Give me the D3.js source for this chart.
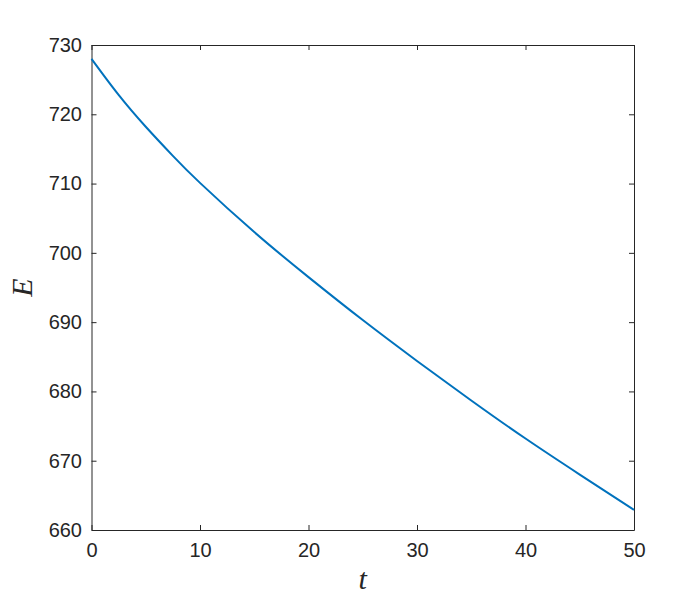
<!DOCTYPE html>
<html>
<head>
<meta charset="utf-8">
<script src="https://cdn.jsdelivr.net/npm/d3@7"></script>
<style>
  body { margin: 0; background: #fff; }
  .tick text { font-family: "Liberation Sans", Arial, sans-serif; font-size: 20px; fill: #262626; }
</style>
</head>
<body>
<div id="chart"></div>
<script>
// values
let t_vals = [0, 2.5, 5, 7.5, 10, 15, 20, 25, 30, 35, 40, 45, 50];
let e_vals = [728.0, 722.8, 718.2, 714.0, 710.1, 703.0, 696.5, 690.3, 684.4, 678.7, 673.2, 668.0, 662.9];
let x_ticks = [0, 10, 20, 30, 40, 50];
let y_ticks = [660, 670, 680, 690, 700, 710, 720, 730];

let width = 700, height = 600;
let margin = {left: 91.5, right: 66, top: 45, bottom: 70};

let svg = d3.select("#chart").append("svg")
    .attr("width", width)
    .attr("height", height);

let x = d3.scaleLinear().domain([0, 50]).range([margin.left, width - margin.right]);
let y = d3.scaleLinear().domain([660, 730]).range([height - margin.bottom, margin.top]);

let axis_color = "#262626";

// ticks pointing inward on all four sides
let bottom = svg.append("g")
    .attr("transform", "translate(0," + y.range()[0] + ")")
    .call(d3.axisBottom(x).tickValues(x_ticks).tickSizeInner(-5).tickSizeOuter(0).tickPadding(13));
let top_ax = svg.append("g")
    .attr("transform", "translate(0," + y.range()[1] + ")")
    .call(d3.axisTop(x).tickValues(x_ticks).tickSizeInner(-5).tickSizeOuter(0).tickFormat(""));
let left = svg.append("g")
    .attr("transform", "translate(" + x.range()[0] + ",0)")
    .call(d3.axisLeft(y).tickValues(y_ticks).tickSizeInner(-5).tickSizeOuter(0).tickPadding(9.5));
let right = svg.append("g")
    .attr("transform", "translate(" + x.range()[1] + ",0)")
    .call(d3.axisRight(y).tickValues(y_ticks).tickSizeInner(-5).tickSizeOuter(0).tickFormat(""));

[bottom, top_ax, left, right].forEach(g => {
    g.selectAll("path, line").attr("stroke", axis_color).attr("stroke-width", 1);
});
bottom.selectAll("text").attr("dy", "0.71em");

// the curve
let line = d3.line()
    .x((d, i) => x(t_vals[i]))
    .y(d => y(d))
    .curve(d3.curveNatural);

svg.append("path")
    .datum(e_vals)
    .attr("d", line)
    .attr("fill", "none")
    .attr("stroke", "#0072BD")
    .attr("stroke-width", 2);

// axis labels
svg.append("text")
    .attr("x", (x.range()[0] + x.range()[1]) / 2)
    .attr("y", 589)
    .attr("text-anchor", "middle")
    .style("font-family", "'Liberation Serif', 'DejaVu Serif', serif")
    .style("font-style", "italic")
    .style("font-size", "30px")
    .attr("fill", "#262626")
    .text("t");

svg.append("text")
    .attr("transform", "translate(31.5," + (y.range()[0] + y.range()[1]) / 2 + ") rotate(-90)")
    .attr("text-anchor", "middle")
    .style("font-family", "'Liberation Serif', 'DejaVu Serif', serif")
    .style("font-style", "italic")
    .style("font-size", "30px")
    .attr("fill", "#262626")
    .text("E");
</script>
</body>
</html>
